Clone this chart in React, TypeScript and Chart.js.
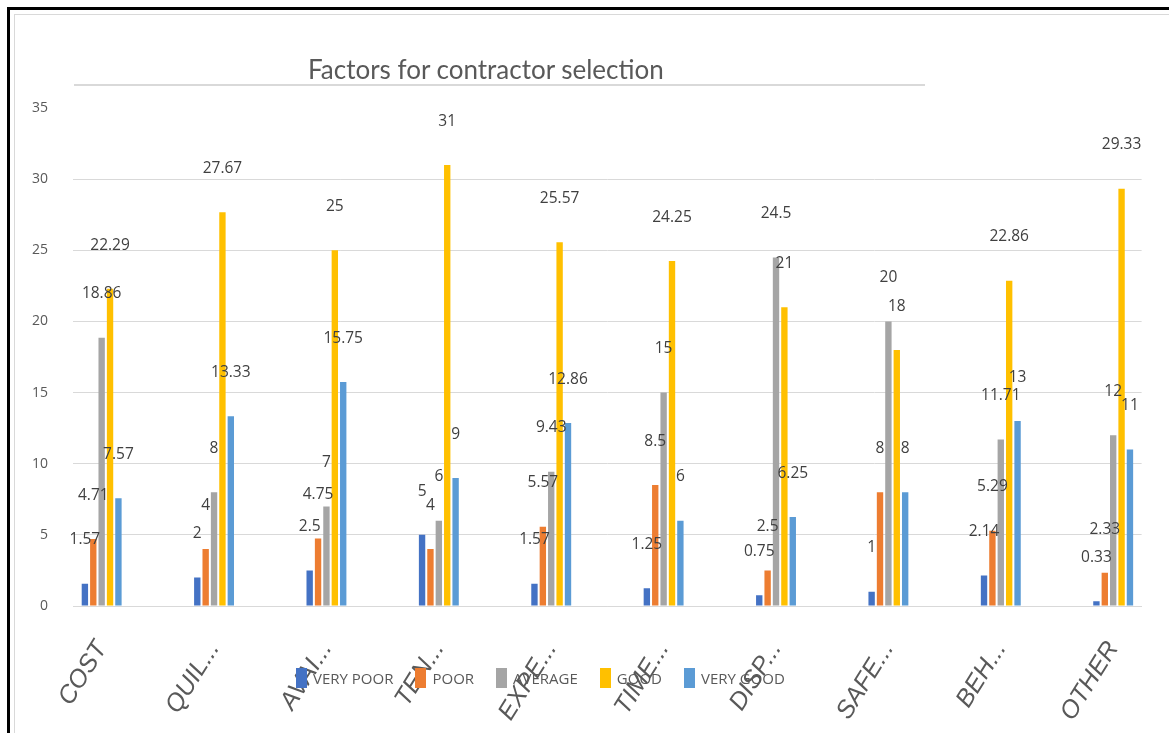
import React, { useEffect, useRef } from "react";
import { Chart, registerables } from "chart.js";

Chart.register(...registerables);

const categories = ["COST", "QUIL...", "AVAI...", "TEN...", "EXPE...", "TIME...", "DISP...", "SAFE...", "BEH...", "OTHER"];
const seriesNames = ["VERY POOR", "POOR", "AVERAGE", "GOOD", "VERY GOOD"];
const veryPoor = [1.57, 2, 2.5, 5, 1.57, 1.25, 0.75, 1, 2.14, 0.33];
const poor = [4.71, 4, 4.75, 4, 5.57, 8.5, 2.5, 8, 5.29, 2.33];
const average = [18.86, 8, 7, 6, 9.43, 15, 24.5, 20, 11.71, 12];
const good = [22.29, 27.67, 25, 31, 25.57, 24.25, 21, 18, 22.86, 29.33];
const veryGood = [7.57, 13.33, 15.75, 9, 12.86, 6, 6.25, 8, 13, 11];
const seriesValues = [veryPoor, poor, average, good, veryGood];
const seriesColors = ["#4472C4", "#ED7D31", "#A5A5A5", "#FFC000", "#5B9BD5"];
const yMax = 35;
const yStep = 5;
const titleText = "Factors for contractor selection";

const barLabelPlugin = {
  id: "barLabels",
  afterDatasetsDraw(chart: any) {
    const ctx = chart.ctx;
    ctx.save();
    ctx.font = "15.5px 'Open Sans', sans-serif";
    ctx.fillStyle = "#404040";
    ctx.textAlign = "center";
    ctx.textBaseline = "bottom";
    chart.data.datasets.forEach((ds: any, di: number) => {
      const meta = chart.getDatasetMeta(di);
      meta.data.forEach((el: any, i: number) => {
        ctx.fillText(String(ds.data[i]), el.x, el.y - 36);
      });
    });
    ctx.restore();
  },
};

export default function App() {
  const canvasRef = useRef<HTMLCanvasElement | null>(null);

  useEffect(() => {
    if (!canvasRef.current) return;
    Chart.defaults.font.family = "'Open Sans', sans-serif";
    const chart = new Chart(canvasRef.current, {
      type: "bar",
      data: {
        labels: categories,
        datasets: seriesNames.map((name, i) => ({
          label: name,
          data: seriesValues[i],
          backgroundColor: seriesColors[i],
          borderWidth: 0,
          categoryPercentage: 0.373,
          barPercentage: 0.76,
        })),
      },
      options: {
        animation: false,
        responsive: true,
        maintainAspectRatio: false,
        layout: { padding: { top: 108, right: 14, bottom: 0, left: 0 } },
        plugins: {
          legend: { display: false },
          title: { display: false },
          tooltip: { enabled: false },
        },
        scales: {
          x: {
            grid: { display: false, drawTicks: false },
            border: { color: "#d9d9d9", width: 1 },
            ticks: {
              minRotation: 58,
              maxRotation: 58,
              padding: 30,
              color: "#595959",
              font: { size: 25, style: "italic", family: "'Liberation Sans', sans-serif" },
              autoSkip: false,
            },
            afterFit: (scale: any) => {
              scale.height = 127;
            },
            afterBuildTicks: (scale: any) => {
              scale._startValue = -0.255;
              scale._valueRange = 9.508;
            },
          },
          y: {
            min: 0,
            max: yMax,
            ticks: {
              stepSize: yStep,
              padding: 25,
              color: "#595959",
              font: { size: 14 },
            },
            grid: {
              drawTicks: false,
              color: (ctx: any) => (ctx.tick && ctx.tick.value === yMax ? "rgba(0,0,0,0)" : "#d9d9d9"),
            },
            border: { display: false },
            afterFit: (scale: any) => {
              scale.width = 73;
            },
          },
        },
      },
      plugins: [barLabelPlugin],
    });
    return () => chart.destroy();
  }, []);

  return (
    <div style={{ position: "fixed", left: 0, top: 0, width: 1169, height: 733, background: "#fff", overflow: "hidden" }}>
      <canvas ref={canvasRef} style={{ position: "absolute", left: 0, top: 0, width: 1169, height: 733 }} />
      <div style={{ position: "absolute", left: 7, top: 7, width: 1200, height: 800, borderLeft: "3px solid #000", borderTop: "3px solid #000", pointerEvents: "none" }} />
      <div style={{ position: "absolute", left: 14, top: 14, width: 1200, height: 800, borderLeft: "1px solid #d9d9d9", borderTop: "1px solid #d9d9d9", pointerEvents: "none" }} />
      <div style={{ position: "absolute", left: 74, top: 84, width: 851, height: 0, borderTop: "2px solid #d9d9d9" }} />
      <div style={{ position: "absolute", left: 308, top: 54, fontFamily: "Lato, sans-serif", fontSize: 26, color: "#595959", whiteSpace: "nowrap", lineHeight: "30px" }}>
        {titleText}
      </div>
      <div style={{ position: "absolute", left: 296, top: 668, display: "flex", alignItems: "center", gap: 22, fontFamily: "'Open Sans', sans-serif", fontSize: 15, color: "#595959" }}>
        {seriesNames.map((name, i) => (
          <div key={name} style={{ display: "flex", alignItems: "center" }}>
            <span style={{ display: "inline-block", width: 11, height: 20, background: seriesColors[i], marginRight: 6 }} />
            <span>{name}</span>
          </div>
        ))}
      </div>
    </div>
  );
}
